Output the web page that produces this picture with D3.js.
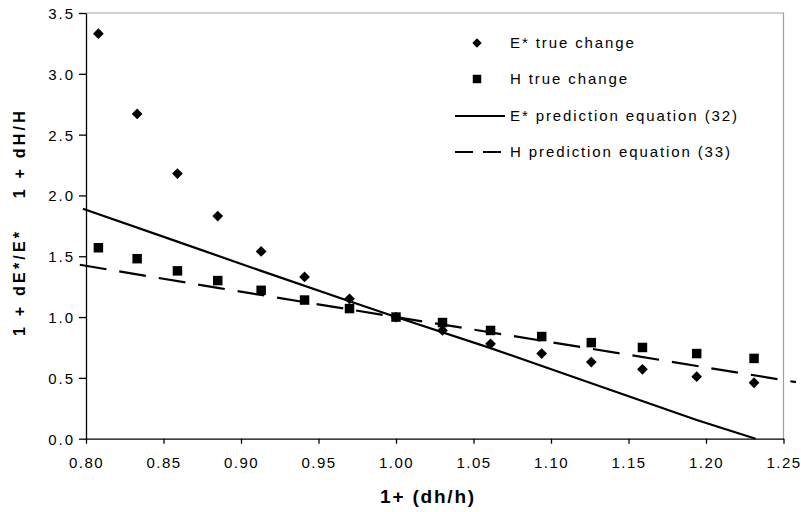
<!DOCTYPE html>
<html>
<head>
<meta charset="utf-8">
<script src="https://cdn.jsdelivr.net/npm/d3@7"></script>
<style>
	body { margin: 0; background: #fff; }
	text { font-family: "Liberation Sans", Arial, sans-serif; }
</style>
</head>
<body>
<div id="chart"></div>
<script>
// values
const dh = [0.808, 0.833, 0.859, 0.885, 0.913, 0.941, 0.970, 1.000, 1.030, 1.061, 1.094, 1.126, 1.159, 1.194, 1.231]
const eTrue = [3.33, 2.67, 2.18, 1.83, 1.54, 1.33, 1.15, 1.00, 0.89, 0.78, 0.70, 0.63, 0.57, 0.51, 0.46]
const hTrue = [1.57, 1.48, 1.38, 1.30, 1.22, 1.14, 1.07, 1.00, 0.955, 0.89, 0.84, 0.79, 0.75, 0.70, 0.66]

const ePredX = [0.798, 0.859, 0.913, 0.970, 1.000, 1.061, 1.126, 1.194, 1.232]
const ePredY = [1.89, 1.62, 1.38, 1.13, 1.00, 0.745, 0.456, 0.154, 0.0]
const hPredX = [0.796, 0.885, 1.000, 1.126, 1.258]
const hPredY = [1.43, 1.24, 1.00, 0.74, 0.465]

const xTicks = [0.80, 0.85, 0.90, 0.95, 1.00, 1.05, 1.10, 1.15, 1.20, 1.25]
const yTicks = [0.0, 0.5, 1.0, 1.5, 2.0, 2.5, 3.0, 3.5]

const legendLabels = ['E* true change', 'H true change', 'E* prediction equation (32)', 'H prediction equation (33)']

const width = 801, height = 512
const plot = { left: 86, right: 783.5, top: 13, bottom: 438.7 }

let svg = d3.select('#chart')
	.append('svg')
	.attr('width', width)
	.attr('height', height)

let x = d3.scaleLinear().domain([0.8, 1.25]).range([plot.left, plot.right])
let y = d3.scaleLinear().domain([0, 3.5]).range([plot.bottom, plot.top])

// grey frame on top and right
svg.append('path')
	.attr('d', `M${plot.left},${plot.top}H${plot.right}V${plot.bottom}`)
	.attr('fill', 'none')
	.attr('stroke', '#a0a0a0')
	.attr('stroke-width', 1.2)

let xAxis = svg.append('g')
	.attr('transform', `translate(0,${plot.bottom})`)
	.call(d3.axisBottom(x).tickValues(xTicks).tickFormat(d3.format('.2f')).tickSize(5).tickSizeOuter(0))

let yAxis = svg.append('g')
	.attr('transform', `translate(${plot.left},0)`)
	.call(d3.axisLeft(y).tickValues(yTicks).tickFormat(d3.format('.1f')).tickSize(7).tickSizeOuter(0))

svg.selectAll('.domain, .tick line').attr('stroke', '#000').attr('stroke-width', 1.3)
svg.selectAll('.tick text')
	.attr('fill', '#000')
	.style('font-size', '15px')
	.style('letter-spacing', '2px')
xAxis.selectAll('.tick text').attr('dy', null).attr('y', 29).style('letter-spacing', '1.5px')
yAxis.selectAll('.tick text').attr('x', -11).attr('dy', '0.36em')

// prediction lines
let line = d3.line().x(d => x(d[0])).y(d => y(d[1]))

svg.append('path')
	.datum(ePredX.map((v, i) => [v, ePredY[i]]))
	.attr('d', line)
	.attr('fill', 'none')
	.attr('stroke', '#000')
	.attr('stroke-width', 2.2)

svg.append('path')
	.datum(hPredX.map((v, i) => [v, hPredY[i]]))
	.attr('d', line)
	.attr('fill', 'none')
	.attr('stroke', '#000')
	.attr('stroke-width', 2.2)
	.attr('stroke-dasharray', '27,13')

// true-change markers
let diamond = d3.symbol().type(d3.symbolSquare).size(58)
let square = d3.symbol().type(d3.symbolSquare).size(90)

svg.selectAll('.dia')
	.data(dh.map((v, i) => [v, eTrue[i]]))
	.join('path')
	.attr('class', 'dia')
	.attr('d', diamond)
	.attr('transform', d => `translate(${x(d[0])},${y(d[1])}) rotate(45)`)
	.attr('fill', '#000')

svg.selectAll('.sq')
	.data(dh.map((v, i) => [v, hTrue[i]]))
	.join('path')
	.attr('class', 'sq')
	.attr('d', square)
	.attr('transform', d => `translate(${x(d[0])},${y(d[1])})`)
	.attr('fill', '#000')

// legend
let legend = svg.append('g')
legend.append('path').attr('d', d3.symbol().type(d3.symbolSquare).size(44)).attr('transform', 'translate(477,43) rotate(45)')
legend.append('path').attr('d', d3.symbol().type(d3.symbolSquare).size(72)).attr('transform', 'translate(477,79)')
legend.append('line').attr('x1', 455).attr('x2', 505).attr('y1', 116).attr('y2', 116)
	.attr('stroke', '#000').attr('stroke-width', 2.2)
legend.append('line').attr('x1', 455).attr('x2', 505).attr('y1', 152).attr('y2', 152)
	.attr('stroke', '#000').attr('stroke-width', 2.2).attr('stroke-dasharray', '18,10')

legend.selectAll('text')
	.data(legendLabels)
	.join('text')
	.attr('x', 510)
	.attr('y', (d, i) => [43, 79, 116, 152][i])
	.attr('dy', '0.36em')
	.style('font-size', '15px')
	.style('letter-spacing', '1.9px')
	.text(d => d)

// axis titles
svg.append('text')
	.attr('x', 428)
	.attr('y', 503)
	.attr('text-anchor', 'middle')
	.style('font-size', '19px')
	.style('font-weight', 'bold')
	.style('letter-spacing', '1.8px')
	.text('1+ (dh/h)')

svg.append('text')
	.attr('transform', 'translate(25,222) rotate(-90)')
	.attr('text-anchor', 'middle')
	.attr('xml:space', 'preserve')
	.style('white-space', 'pre')
	.style('font-size', '16px')
	.style('font-weight', 'bold')
	.style('letter-spacing', '3.2px')
	.text('1 + dE*/E*    1 + dH/H')
</script>
</body>
</html>
